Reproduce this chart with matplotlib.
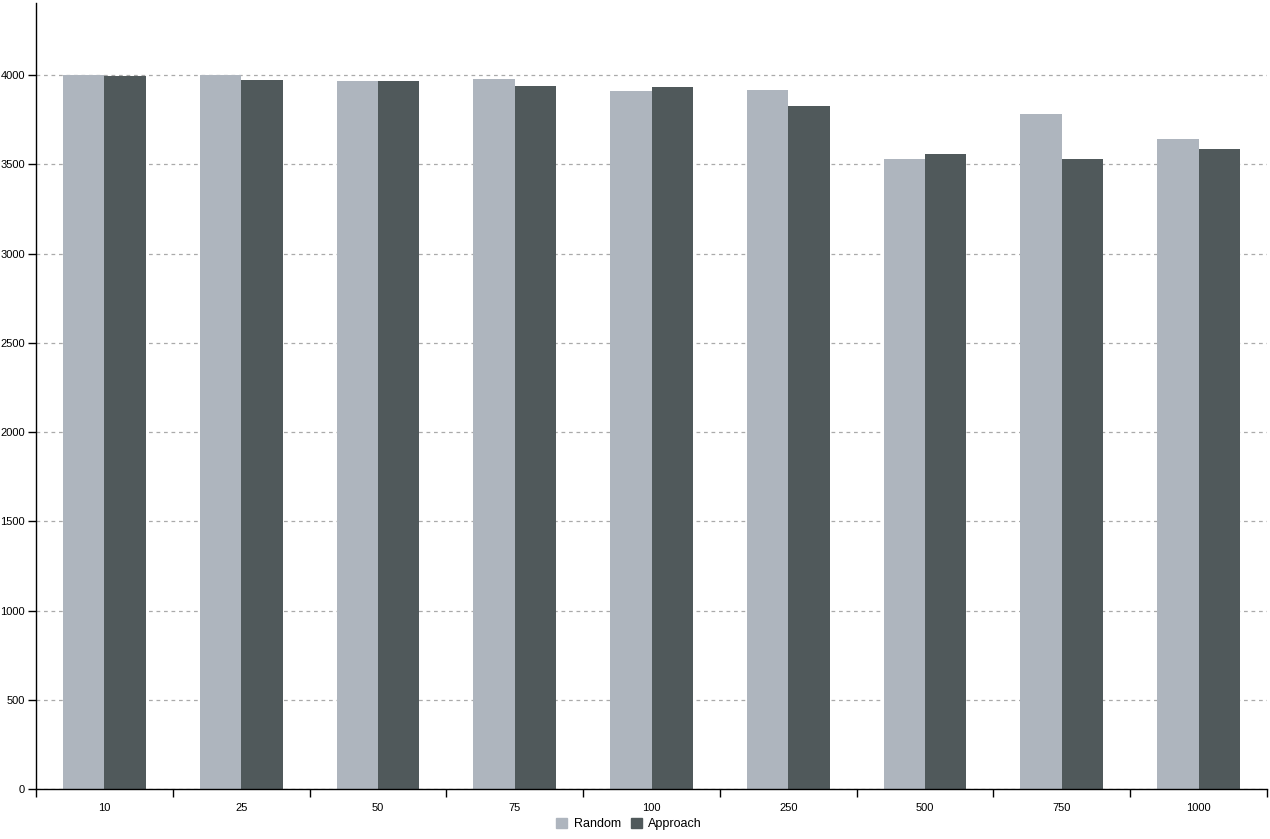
import numpy as np
import matplotlib.pyplot as plt
from matplotlib.patches import Patch

plt.rcParams['font.family'] = ['Liberation Sans', 'DejaVu Sans']

categories = ['10', '25', '50', '75', '100', '250', '500', '750', '1000']
random_vals = [4000, 4000, 3966, 3977, 3910, 3916, 3529, 3781, 3641]
approach_vals = [3995, 3972, 3966, 3938, 3933, 3826, 3557, 3529, 3585]

random_color = '#aeb5be'
approach_color = '#50595b'

W, H, dpi = 1270, 839, 100
fig = plt.figure(figsize=(W / dpi, H / dpi), dpi=dpi)
ax = fig.add_axes([36 / W, 50 / H, (1267 - 36) / W, (789 - 3) / H])

x = np.arange(len(categories))
bw = 0.303
ax.bar(x - bw / 2, random_vals, bw, color=random_color, zorder=2)
ax.bar(x + bw / 2, approach_vals, bw, color=approach_color, zorder=2)

ax.set_xlim(-0.5, len(categories) - 0.5)
ax.set_ylim(0, 4405)
ax.set_yticks(np.arange(0, 4001, 500))
ax.yaxis.grid(True, linestyle=(0, (3, 3)), color='#aaaaaa', linewidth=0.9, zorder=0)
ax.set_axisbelow(True)

# labels in the middle of each band, tick marks on the band edges
ax.set_xticks(x)
ax.set_xticklabels(categories)
ax.tick_params(axis='x', which='major', length=0, pad=10)
ax.set_xticks(np.arange(len(categories) + 1) - 0.5, minor=True)
ax.tick_params(axis='x', which='minor', length=6, width=1)
ax.tick_params(axis='y', length=6, width=1, pad=2)
ax.tick_params(labelsize=8)

for s in ['top', 'right']:
    ax.spines[s].set_visible(False)
for s in ['left', 'bottom']:
    ax.spines[s].set_linewidth(1)

handles = [Patch(color=random_color, label='Random'),
           Patch(color=approach_color, label='Approach')]
fig.legend(handles=handles, loc='center', bbox_to_anchor=(629 / W, 1 - 824 / H),
           ncol=2, frameon=False, fontsize=9, handlelength=0.9, handleheight=0.9,
           handletextpad=0.5, columnspacing=0.8)

fig.savefig('out.png', dpi=dpi)
